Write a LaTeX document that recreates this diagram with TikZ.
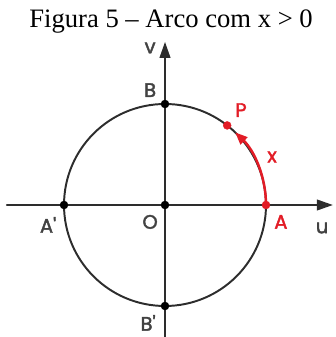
\documentclass[tikz,border=0pt]{standalone}
\usepackage{fontspec}
\setmainfont{Liberation Serif}
\newfontfamily\lblfont[FakeBold=2]{Poppins}
\usetikzlibrary{arrows.meta,calc}
\usepackage{tkz-euclide}
\definecolor{ArcClr}{RGB}{226,28,38}
\definecolor{AxisClr}{RGB}{45,45,45}

\begin{document}
\begin{tikzpicture}[lbl/.style={font=\lblfont\fontsize{22}{22}\selectfont,inner sep=0pt,color=AxisClr!90},
  red lbl/.style={lbl,color=ArcClr}]
\useasboundingbox (-6.535,-5.228) rectangle (6.772,8.119);
\tkzSetUpLine[line width=2.2pt,color=AxisClr]
\tkzSetUpPoint[fill=black,color=black]

\tkzDefPoints{0/0/O,4/0/A,-4/0/Ap,0/4/B,0/-4/Bp}
\tkzDefPoints{-6.26/0/U1,6.65/0/U2,0/-5.4/V1,0/6.46/V2}
\tkzDefPoint(52:4){P}
\tkzDefPoint(46:4){Q}

% axes and circle
\tkzDrawSegments[-{Triangle[length=18pt,width=12pt]}](U1,U2 V1,V2)
\tkzDrawCircle[line width=2.2pt,color=AxisClr](O,A)
\tkzDrawArc[color=ArcClr,line width=2.8pt,-{Triangle[length=14pt,width=11pt]}](O,A)(Q)

\tkzDrawPoints[size=9](O,Ap,B,Bp)
\tkzDrawPoints[size=9,color=ArcClr,fill=ArcClr](A,P)

\node (ttl) at (0.24,7.25) {\fontsize{30}{30}\selectfont Figura 5 -- Arco com x > 0};
\node[lbl] (lv) at (-0.59,6.22) {v};
\node[lbl] (lB) at (-0.59,4.55) {B};
\node[red lbl] (lP) at (3.01,3.76) {P};
\node[red lbl] (lx) at (4.24,1.90) {x};
\node[lbl] (lAp) at (-4.63,-0.79) {A'};
\node[lbl] (lO) at (-0.59,-0.67) {O};
\node[red lbl] (lA) at (4.59,-0.67) {A};
\node[lbl] (lu) at (6.22,-0.91) {u};
\node[lbl] (lBp) at (-0.67,-4.67) {B'};
\end{tikzpicture}
\end{document}
